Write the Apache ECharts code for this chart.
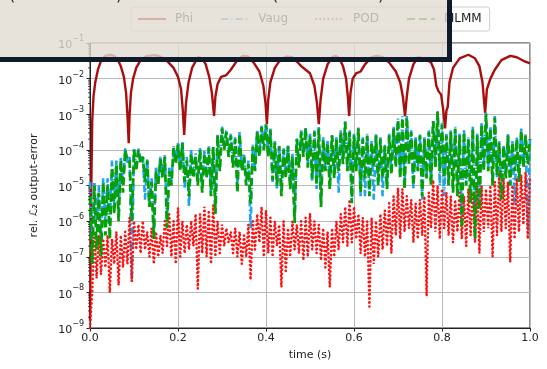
<!DOCTYPE html>
<html>
<head>
<meta charset="utf-8">
<script src="https://cdn.jsdelivr.net/npm/echarts@6/dist/echarts.min.js"></script>
<style>
html,body{margin:0;padding:0;background:#fff;}
#c{width:547px;height:369px;}
</style>
</head>
<body>
<div id="c"></div>
<script>
// ---- data (exponents = decimal log10 values) ----
const xTicks = [0.0, 0.2, 0.4, 0.6, 0.8, 1.0];
const yTickExps = [-9, -8, -7, -6, -5, -4, -3, -2, -1];

const phiT = [0.0,0.003,0.005,0.008,0.012,0.018,0.025,0.035,0.045,0.055,0.063,0.07,0.077,0.082,0.085,0.088,0.090,0.093,0.098,0.105,0.115,0.13,0.148,0.16,0.175,0.19,0.2,0.207,0.211,0.214,0.218,0.224,0.232,0.245,0.255,0.263,0.271,0.277,0.282,0.285,0.29,0.298,0.31,0.32,0.335,0.348,0.36,0.372,0.385,0.394,0.399,0.402,0.405,0.41,0.42,0.432,0.447,0.46,0.47,0.48,0.49,0.5,0.51,0.516,0.52,0.524,0.53,0.54,0.55,0.558,0.567,0.575,0.582,0.586,0.589,0.592,0.597,0.605,0.615,0.625,0.64,0.652,0.665,0.68,0.695,0.705,0.711,0.716,0.72,0.725,0.735,0.745,0.76,0.775,0.782,0.787,0.792,0.798,0.803,0.807,0.81,0.813,0.817,0.825,0.84,0.86,0.875,0.885,0.892,0.898,0.902,0.91,0.92,0.935,0.955,0.97,0.985,1.0];
const phiExp = [-8.8,-5.0,-3.2,-2.5,-2.1,-1.75,-1.5,-1.36,-1.33,-1.36,-1.46,-1.65,-1.95,-2.4,-3.0,-3.81,-3.0,-2.4,-2.0,-1.7,-1.48,-1.36,-1.34,-1.38,-1.5,-1.7,-1.95,-2.3,-2.9,-3.58,-2.7,-2.1,-1.7,-1.4,-1.43,-1.6,-1.95,-2.4,-3.05,-2.5,-2.15,-1.95,-1.9,-1.75,-1.48,-1.36,-1.38,-1.55,-1.8,-2.2,-2.7,-3.28,-2.6,-2.1,-1.7,-1.48,-1.38,-1.4,-1.52,-1.65,-1.75,-1.85,-2.2,-2.7,-3.28,-2.6,-2.0,-1.6,-1.4,-1.36,-1.43,-1.65,-2.0,-2.5,-3.05,-2.4,-2.0,-1.85,-1.8,-1.6,-1.4,-1.36,-1.4,-1.55,-1.8,-2.1,-2.5,-3.05,-2.5,-2.0,-1.6,-1.4,-1.43,-1.55,-1.75,-2.2,-2.35,-2.45,-2.9,-3.4,-2.9,-2.8,-2.1,-1.7,-1.43,-1.33,-1.43,-1.65,-2.1,-2.97,-2.3,-2.0,-1.75,-1.48,-1.36,-1.4,-1.5,-1.57];

// noisy error series: one upper reading per 0.01 s sample and one lower reading half a step later
const sampleStep = 0.01;
const vaugUpper = [
-4.9,-4.9,-5.0,-4.8,-4.8,-4.3,-4.3,-4.2,-3.95,-4.2,
-3.95,-3.95,-4.15,-4.25,-4.8,-4.5,-4.2,-4.15,-4.5,-3.9,
-3.8,-3.75,-4.2,-4.0,-4.1,-3.95,-4.0,-3.9,-3.9,-3.55,
-3.35,-3.45,-3.55,-3.65,-3.5,-4.1,-4.3,-3.85,-3.45,-3.3,
-3.25,-3.4,-3.75,-3.85,-3.95,-3.85,-4.1,-3.65,-3.45,-3.35,
-3.55,-3.45,-3.35,-3.65,-3.75,-3.55,-3.65,-3.45,-3.2,-3.45,
-3.55,-3.35,-3.65,-3.55,-3.75,-3.55,-3.65,-3.85,-3.55,-3.35,
-3.12,-3.05,-3.05,-3.45,-3.65,-3.55,-3.65,-3.45,-3.15,-2.9,
-3.25,-3.55,-3.45,-3.35,-3.55,-3.45,-3.65,-3.35,-3.55,-3.25,
-2.95,-3.35,-3.05,-3.75,-3.85,-3.55,-3.75,-3.65,-3.4,-3.55,
-3.65];
const vaugLower = [
-6.5,-6.0,-6.6,-6.0,-6.2,-5.5,-5.8,-5.0,-4.4,-7.7,
-4.5,-4.3,-5.4,-5.6,-6.3,-4.8,-4.7,-6.0,-4.9,-4.3,
-4.5,-5.1,-5.6,-4.7,-4.9,-5.1,-4.7,-5.2,-5.6,-4.5,
-3.9,-4.1,-4.4,-5.0,-4.5,-4.9,-6.2,-4.5,-4.1,-3.95,
-4.1,-4.9,-5.1,-5.2,-4.7,-5.0,-5.9,-4.4,-4.1,-4.4,
-4.9,-5.1,-5.5,-4.5,-5.0,-4.7,-5.2,-4.3,-4.5,-5.4,
-4.5,-5.3,-5.3,-5.2,-5.4,-4.9,-5.3,-5.0,-4.6,-4.4,
-4.7,-5.0,-4.3,-5.1,-4.5,-5.4,-4.7,-4.9,-4.4,-5.0,
-5.3,-4.9,-5.1,-5.2,-5.9,-4.9,-5.4,-6.3,-5.5,-4.5,
-4.5,-4.9,-4.8,-5.3,-4.7,-5.0,-5.5,-4.8,-4.4,-6.2];
const podUpper = [
-9.0,-6.3,-6.4,-6.5,-6.4,-6.5,-6.3,-6.4,-6.3,-5.9,
-6.0,-6.1,-6.0,-6.3,-6.2,-6.3,-6.4,-6.0,-5.8,-6.0,
-5.63,-6.0,-6.1,-6.0,-5.8,-5.8,-5.6,-5.7,-5.55,-6.0,
-6.1,-6.2,-6.3,-6.2,-6.3,-6.4,-6.1,-6.0,-5.8,-5.6,
-5.7,-5.9,-6.0,-6.1,-6.0,-6.2,-6.0,-6.1,-6.0,-5.9,
-5.78,-6.0,-6.1,-6.2,-6.3,-6.2,-6.0,-5.8,-5.6,-5.4,
-5.6,-5.8,-5.9,-6.0,-5.9,-6.0,-5.8,-5.7,-5.5,-5.3,
-5.07,-5.1,-5.3,-5.4,-5.5,-5.4,-5.3,-5.2,-4.85,-5.0,
-5.1,-5.2,-5.3,-5.4,-5.2,-5.3,-5.1,-5.2,-5.0,-5.0,
-5.1,-5.0,-4.9,-4.65,-4.8,-4.9,-5.0,-4.8,-4.7,-4.62,
-4.8];
const podLower = [
-8.0,-7.6,-7.5,-7.3,-8.0,-7.2,-7.8,-7.3,-7.2,-7.7,
-6.8,-6.9,-6.8,-7.0,-7.2,-7.0,-6.9,-6.7,-7.0,-7.2,
-7.0,-6.9,-6.8,-6.7,-7.9,-6.9,-7.0,-7.2,-7.0,-6.9,
-6.7,-6.6,-6.9,-7.0,-7.2,-7.0,-7.65,-6.8,-6.6,-7.0,
-6.9,-7.0,-6.7,-7.85,-7.4,-7.0,-6.8,-6.9,-7.1,-7.0,
-6.8,-6.9,-7.1,-7.3,-7.85,-7.0,-6.8,-6.6,-6.7,-6.6,
-6.5,-6.9,-7.0,-8.4,-7.2,-7.0,-6.8,-6.7,-6.9,-6.4,
-6.5,-6.3,-6.2,-6.6,-6.5,-6.4,-8.1,-6.2,-6.3,-6.5,
-6.2,-6.4,-6.6,-6.3,-6.5,-6.7,-6.4,-6.6,-6.9,-6.3,
-6.2,-7.0,-6.4,-6.3,-6.2,-7.15,-6.5,-6.3,-6.1,-6.5];
const mlmmUpper = [
-5.3,-5.0,-5.2,-4.9,-5.0,-4.5,-4.4,-4.3,-4.0,-4.3,
-4.0,-4.0,-4.2,-4.3,-4.9,-4.6,-4.25,-4.2,-4.6,-3.95,
-3.85,-3.8,-4.3,-4.1,-4.2,-4.0,-4.1,-3.95,-3.92,-3.6,
-3.4,-3.5,-3.6,-3.7,-3.55,-4.2,-4.4,-3.9,-3.5,-3.36,
-3.3,-3.44,-3.8,-3.9,-4.0,-3.9,-4.2,-3.7,-3.5,-3.4,
-3.6,-3.5,-3.4,-3.7,-3.8,-3.6,-3.7,-3.5,-3.22,-3.5,
-3.6,-3.4,-3.7,-3.6,-3.8,-3.6,-3.7,-3.9,-3.6,-3.4,
-3.16,-3.1,-3.08,-3.5,-3.7,-3.6,-3.7,-3.5,-3.2,-2.94,
-3.3,-3.6,-3.5,-3.4,-3.6,-3.5,-3.7,-3.4,-3.6,-3.3,
-3.0,-3.4,-3.1,-3.8,-3.9,-3.6,-3.8,-3.7,-3.45,-3.6,
-3.7];
const mlmmLower = [
-7.2,-6.8,-7.0,-6.4,-6.5,-5.8,-6.0,-5.2,-4.3,-6.0,
-4.6,-4.4,-4.9,-5.6,-6.5,-5.0,-4.8,-6.2,-5.0,-4.4,
-4.6,-4.9,-5.3,-4.8,-5.0,-5.2,-4.8,-5.3,-5.8,-4.6,
-4.0,-4.2,-4.5,-5.2,-4.6,-5.0,-5.5,-4.6,-4.2,-4.0,
-4.2,-4.85,-5.0,-5.3,-4.8,-5.1,-6.05,-4.5,-4.2,-4.5,
-4.8,-5.0,-5.6,-4.6,-5.1,-4.8,-4.6,-4.4,-4.6,-5.5,
-4.6,-5.2,-4.8,-5.3,-4.5,-5.0,-4.8,-5.1,-4.7,-4.5,
-4.8,-5.1,-4.4,-5.0,-4.6,-5.3,-4.8,-5.0,-4.5,-4.6,
-4.8,-5.0,-5.2,-5.3,-6.2,-5.0,-5.5,-6.5,-5.7,-4.6,
-4.6,-5.0,-4.7,-5.4,-4.8,-5.0,-4.6,-4.9,-4.5,-4.4];

// ---- build series data ----
const toPairsT = (ts, es) => ts.map((t, i) => [t, Math.pow(10, es[i])]);
const zigzag = (up, lo) => {
  const out = [];
  up.forEach((u, i) => {
    out.push([+(i * sampleStep).toFixed(4), Math.pow(10, u)]);
    if (i < lo.length) out.push([+(i * sampleStep + sampleStep / 2).toFixed(4), Math.pow(10, lo[i])]);
  });
  return out;
};
const minorVals = [];
for (let n = -9; n <= -2; n++) for (let k = 2; k <= 9; k++) minorVals.push(k * Math.pow(10, n));

const FONT = 'DejaVu Sans';
const chart = echarts.init(document.getElementById('c'), null, {renderer: 'canvas'});
chart.setOption({
  animation: false,
  backgroundColor: '#fff',
  grid: {left: 90, right: 17, top: 43, bottom: 41, show: true, borderColor: '#222', borderWidth: 1, backgroundColor: '#fff'},
  legend: {
    left: 131, top: 7, itemWidth: 28, itemHeight: 10, itemGap: 27,
    padding: [6, 8, 6, 6],
    backgroundColor: 'rgba(255,255,255,0.9)', borderColor: '#cccccc', borderWidth: 1, borderRadius: 3,
    itemStyle: {opacity: 0, borderWidth: 0},
    textStyle: {fontFamily: FONT, fontSize: 12, color: '#222', padding: [0, 0, 0, 4]},
    data: ['Phi', 'Vaug', 'POD', 'MLMM']
  },
  xAxis: {
    type: 'value', min: 0, max: 1, interval: 0.2,
    name: 'time (s)', nameLocation: 'middle', nameGap: 22,
    nameTextStyle: {fontFamily: FONT, fontSize: 11, color: '#222'},
    axisLine: {show: true, lineStyle: {color: '#222', width: 1}},
    axisTick: {show: true, length: 3.5, lineStyle: {color: '#222'}},
    axisLabel: {fontFamily: FONT, fontSize: 11, color: '#222', margin: 5, formatter: v => v.toFixed(1)},
    splitLine: {show: true, lineStyle: {color: '#b8b8b8', width: 1}}
  },
  yAxis: {
    type: 'log', logBase: 10, min: 1e-9, max: 1e-1, interval: 1,
    name: 'rel. \u2112\u2082 output-error', nameLocation: 'middle', nameGap: 50,
    nameTextStyle: {fontFamily: FONT, fontSize: 11, color: '#222'},
    axisLine: {show: true, lineStyle: {color: '#222', width: 1}},
    axisTick: {show: true, length: 3.5, lineStyle: {color: '#222'}},
    axisLabel: {
      margin: 6,
      formatter: v => { const e = Math.round(Math.log10(v)); return '{b|10}{s|' + (e < 0 ? '\u2212' : '') + Math.abs(e) + '}'; },
      rich: {
        b: {fontFamily: FONT, fontSize: 11, color: '#222', verticalAlign: 'bottom', lineHeight: 16},
        s: {fontFamily: FONT, fontSize: 8, color: '#222', verticalAlign: 'top', lineHeight: 10}
      }
    },
    splitLine: {show: true, lineStyle: {color: '#b8b8b8', width: 1}}
  },
  series: [
    {name: 'Phi', type: 'line', data: toPairsT(phiT, phiExp), showSymbol: false, symbol: 'none',
     lineStyle: {color: '#a80e0e', width: 2.4}, itemStyle: {color: '#a80e0e'}, z: 2},
    {name: 'Vaug', type: 'line', data: zigzag(vaugUpper, vaugLower), showSymbol: false, symbol: 'none',
     lineStyle: {color: '#1fa3ec', width: 2.6, type: [7, 3, 1.5, 3]}, itemStyle: {color: '#1fa3ec'}, z: 3},
    {name: 'POD', type: 'line', data: zigzag(podUpper, podLower), showSymbol: false, symbol: 'none',
     lineStyle: {color: '#ff1010', width: 2.6, type: [0.1, 4], cap: 'round'}, itemStyle: {color: '#ff1010'}, z: 4},
    {name: 'MLMM', type: 'line', data: zigzag(mlmmUpper, mlmmLower), showSymbol: false, symbol: 'none',
     lineStyle: {color: '#05a005', width: 2.8, type: [8, 4]}, itemStyle: {color: '#05a005'}, z: 5},
    {type: 'custom', silent: true, z: 6, clip: false,
     data: minorVals.map(v => [0, v]),
     renderItem: (params, api) => {
       const p = api.coord([0, api.value(1)]);
       return {type: 'line', shape: {x1: p[0] - 2, y1: p[1], x2: p[0], y2: p[1]}, style: {stroke: '#222', lineWidth: 0.8}};
     }}
  ],
  graphic: [
    {type: 'rect', z: 100, shape: {x: -10, y: -10, width: 459.5, height: 69.5},
     style: {fill: 'rgba(225,220,210,0.8)', stroke: '#0e1b2b', lineWidth: 5}},
    {type: 'text', z: 101, left: 9, top: -12, style: {text: '(', font: '16px "DejaVu Sans"', fill: '#222'}},
    {type: 'text', z: 101, left: 116, top: -12, style: {text: ')', font: '16px "DejaVu Sans"', fill: '#222'}},
    {type: 'text', z: 101, left: 272, top: -12, style: {text: '(', font: '16px "DejaVu Sans"', fill: '#222'}},
    {type: 'text', z: 101, left: 378, top: -12, style: {text: ')', font: '16px "DejaVu Sans"', fill: '#222'}}
  ]
});
</script>
</body>
</html>
